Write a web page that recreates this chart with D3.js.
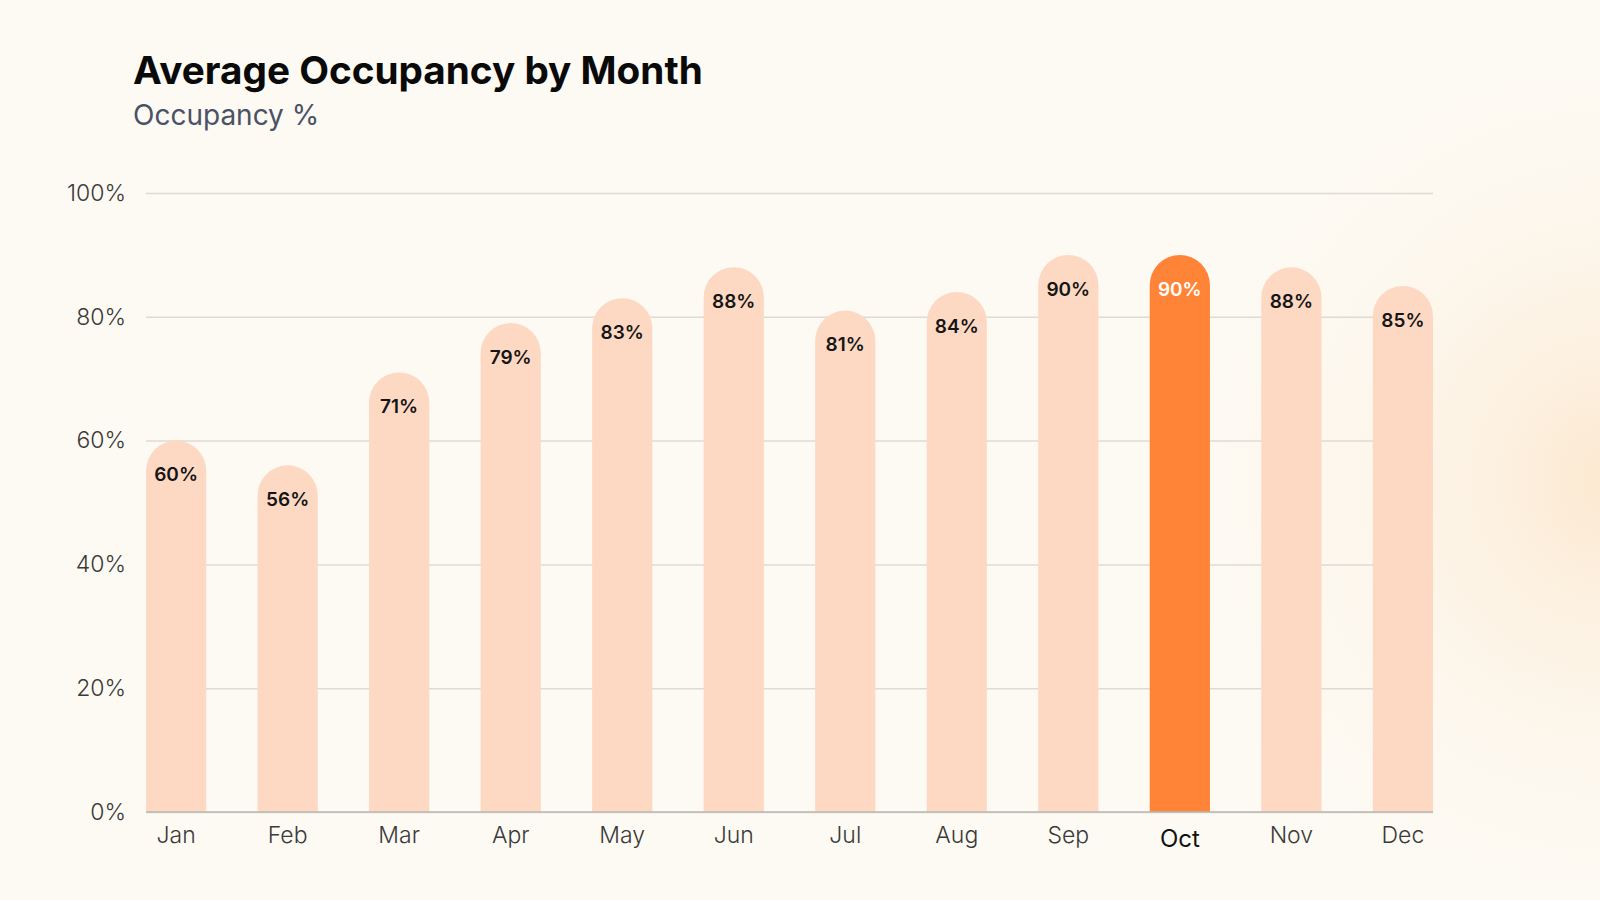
<!DOCTYPE html>
<html>
<head>
<meta charset="utf-8">
<script src="https://cdn.jsdelivr.net/npm/d3@7"></script>
<style>
  html, body { margin: 0; padding: 0; background: #fdfaf3; }
  svg { display: block; font-family: Inter, "Noto Sans", sans-serif; }
</style>
</head>
<body>
<div id="chart"></div>
<script>
// chart data
const months = ["Jan", "Feb", "Mar", "Apr", "May", "Jun", "Jul", "Aug", "Sep", "Oct", "Nov", "Dec"];
const occupancy = [60, 56, 71, 79, 83, 88, 81, 84, 90, 90, 88, 85];
const yTicks = [0, 20, 40, 60, 80, 100];
const highlightMonth = "Oct";

const W = 1600, H = 900;
const margin = { top: 193, right: 167, bottom: 88, left: 146 };
const fontFamily = "Inter, 'Noto Sans', sans-serif";

const data = months.map((m, i) => ({ month: m, value: occupancy[i] }));

const svg = d3.select("#chart")
    .append("svg")
    .attr("width", W)
    .attr("height", H);

// soft warm glow on the right
const defs = svg.append("defs");
const glow = defs.append("radialGradient")
    .attr("id", "glow")
    .attr("cx", 1620).attr("cy", 480).attr("r", 470)
    .attr("gradientUnits", "userSpaceOnUse");
glow.append("stop").attr("offset", "0%").attr("stop-color", "#fce8cf").attr("stop-opacity", 1);
glow.append("stop").attr("offset", "100%").attr("stop-color", "#fdfaf3").attr("stop-opacity", 0);

svg.append("rect").attr("width", W).attr("height", H).attr("fill", "#fdfaf3");
svg.append("rect").attr("width", W).attr("height", H).attr("fill", "url(#glow)");

const x = d3.scaleBand()
    .domain(months)
    .range([margin.left, W - margin.right])
    .paddingInner(0.46)
    .paddingOuter(0);

const y = d3.scaleLinear()
    .domain([0, 100])
    .range([H - margin.bottom, margin.top]);

// gridlines + y labels
const yAxis = svg.append("g")
    .attr("transform", "translate(" + margin.left + ",0)")
    .call(d3.axisLeft(y)
        .tickValues(yTicks)
        .tickFormat(d => d + "%")
        .tickSize(-(W - margin.right - margin.left))
        .tickPadding(20))
    .style("font-family", fontFamily);
yAxis.select(".domain").remove();
yAxis.selectAll("line")
    .attr("stroke", "#dedbd5")
    .attr("stroke-width", 1.5);
yAxis.selectAll("text")
    .attr("fill", "#3a3a3a")
    .style("font-size", "23px")
    .style("font-weight", 300);

// bars with round tops
const r = x.bandwidth() / 2;
function barPath(d) {
    const x0 = x(d.month), x1 = x0 + x.bandwidth();
    const top = y(d.value), base = y(0);
    return "M" + x0 + "," + base +
        "L" + x0 + "," + (top + r) +
        "A" + r + "," + r + " 0 0 1 " + x1 + "," + (top + r) +
        "L" + x1 + "," + base + "Z";
}

svg.selectAll("path.bar")
    .data(data)
    .enter()
    .append("path")
    .attr("class", "bar")
    .attr("d", barPath)
    .attr("fill", d => d.month === highlightMonth ? "#ff8438" : "#fdd9c4");

// baseline
svg.append("line")
    .attr("x1", margin.left)
    .attr("x2", W - margin.right)
    .attr("y1", y(0))
    .attr("y2", y(0))
    .attr("stroke", "#b9b7b2")
    .attr("stroke-width", 1.5);

// value labels inside the bar tops
svg.selectAll("text.valueLabel")
    .data(data)
    .enter()
    .append("text")
    .attr("class", "valueLabel")
    .attr("x", d => x(d.month) + x.bandwidth() / 2)
    .attr("y", d => y(d.value) + 34)
    .attr("dy", "0.35em")
    .attr("text-anchor", "middle")
    .style("font-size", "19px")
    .style("font-weight", 600)
    .attr("fill", d => d.month === highlightMonth ? "#ffffff" : "#151515")
    .text(d => d.value + "%");

// month labels
const xAxis = svg.append("g")
    .attr("transform", "translate(0," + y(0) + ")")
    .call(d3.axisBottom(x).tickSize(0))
    .style("font-family", fontFamily);
xAxis.select(".domain").remove();
xAxis.selectAll("text")
    .attr("y", d => d === highlightMonth ? 35 : 31)
    .attr("dy", 0)
    .attr("fill", d => d === highlightMonth ? "#111111" : "#3a3a3a")
    .style("font-size", d => d === highlightMonth ? "24px" : "23px")
    .style("font-weight", d => d === highlightMonth ? 400 : 300);

// title
svg.append("text")
    .attr("x", 133)
    .attr("y", 84)
    .attr("fill", "#0a0a0a")
    .style("font-size", "38.7px")
    .style("font-weight", 700)
    .text("Average Occupancy by Month");

svg.append("text")
    .attr("x", 133)
    .attr("y", 125)
    .attr("fill", "#4b5166")
    .style("font-size", "28px")
    .style("font-weight", 400)
    .text("Occupancy %");
</script>
</body>
</html>
